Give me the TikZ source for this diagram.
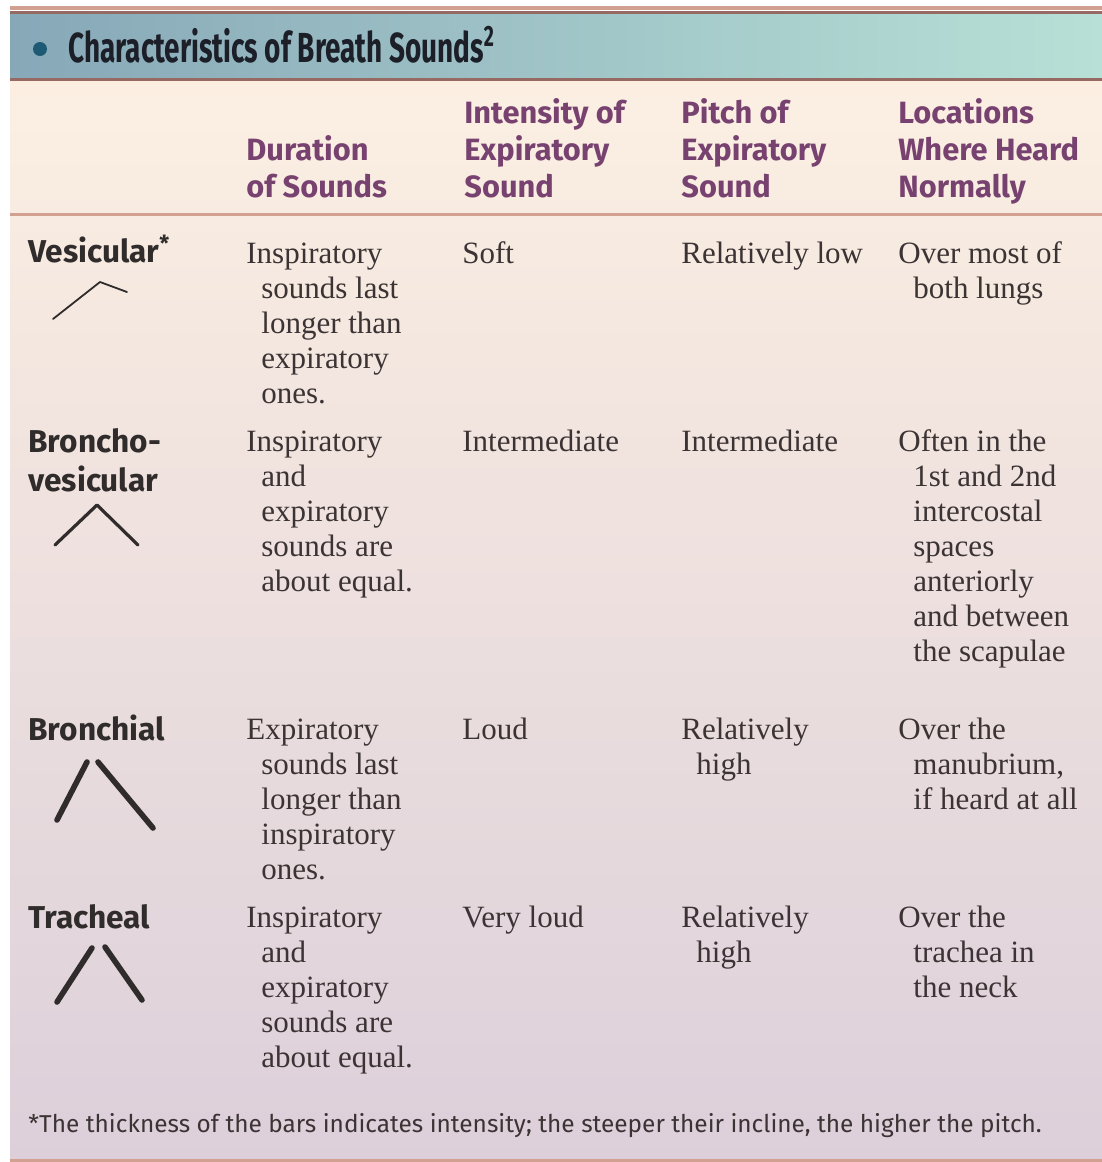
\documentclass[tikz,border=0pt]{standalone}
\usepackage{fontspec}
\setmainfont{Liberation Serif}
\newfontfamily\headfont{Fira Sans}
\newfontfamily\titlefont{Fira Sans}[FakeStretch=0.665]
\newfontfamily\notefont{Fira Sans}
\usepackage{xcolor}
\definecolor{bandleft}{RGB}{135,168,184}
\definecolor{bandright}{RGB}{184,224,214}
\definecolor{creamtop}{RGB}{252,239,226}
\definecolor{lilacbottom}{RGB}{220,207,218}
\definecolor{rulebrown}{RGB}{150,105,98}
\definecolor{rulesalmon}{RGB}{210,160,145}
\definecolor{headpurple}{RGB}{120,66,112}
\definecolor{inkgray}{RGB}{60,52,52}
\definecolor{labelgray}{RGB}{48,44,44}
\definecolor{titleink}{RGB}{28,30,40}
\definecolor{dotteal}{RGB}{30,90,115}
\newcommand\hng{\hspace*{7.5pt}}

\begin{document}
\begin{tikzpicture}[x=0.5pt,y=-0.5pt,
	cell/.style={anchor=base west,inner sep=0pt,align=left,text=inkgray,font=\fontsize{15.5}{17.5}\selectfont},
	colhead/.style={anchor=base west,inner sep=0pt,align=left,text=headpurple,font=\headfont\bfseries\fontsize{15.4}{18.5}\selectfont},
	rowhead/.style={anchor=base west,inner sep=0pt,align=left,text=labelgray,font=\headfont\bfseries\fontsize{15.8}{19.5}\selectfont},
	bars/.style={labelgray,line cap=round,line join=round}]
	\useasboundingbox (0,0) rectangle (1102,1162);
	
	%BACKGROUND
	\fill[white] (0,0) rectangle (1102,1162);
	\shade[top color=creamtop,bottom color=lilacbottom] (10,80) rectangle (1102,1162);
	\shade[left color=bandleft,right color=bandright] (10,12) rectangle (1102,79);
	\draw[rulesalmon,line width=2pt] (10,8)--(1102,8);
	\draw[rulebrown,line width=1.5pt] (10,12)--(1102,12);
	\draw[rulebrown,line width=1.5pt] (10,79)--(1102,79);
	\draw[rulesalmon,line width=1.5pt] (10,214)--(1102,214);
	\draw[rulesalmon,line width=1.5pt] (10,1160)--(1102,1160);
	
	%TITLE
	\node[circle,fill=dotteal,minimum size=7pt,inner sep=0pt] (dot) at (40,49) {};
	\node[anchor=base west,inner sep=0pt,text=titleink,font=\titlefont\bfseries\fontsize{21}{21}\selectfont] (title) at (68,62) {Characteristics of Breath Sounds\textsuperscript{2}};
	
	%COLUMN HEADS (base = last line)
	\node[colhead] (hdur) at (246,197) {Duration\\of Sounds};
	\node[colhead] (hint) at (464,197) {Intensity of\\Expiratory\\Sound};
	\node[colhead] (hpit) at (681,197) {Pitch of\\Expiratory\\Sound};
	\node[colhead] (hloc) at (898,197) {Locations\\Where Heard\\Normally};
	
	%ROW HEADS
	\node[rowhead] (ves) at (28,262) {Vesicular\textsuperscript{*}};
	\node[rowhead] (bves) at (28,491) {Broncho-\\vesicular};
	\node[rowhead] (bron) at (28,740) {Bronchial};
	\node[rowhead] (trach) at (28,928) {Tracheal};
	
	%VESICULAR
	\node[cell] (vesdur) at (246,403) {Inspiratory\\\hng sounds last\\\hng longer than\\\hng expiratory\\\hng ones.};
	\node[cell] (vesint) at (462,263) {Soft};
	\node[cell] (vespit) at (681,263) {Relatively low};
	\node[cell] (vesloc) at (898,298) {Over most of\\\hng both lungs};
	
	%BRONCHOVESICULAR
	\node[cell] (bvesdur) at (246,591) {Inspiratory\\\hng and\\\hng expiratory\\\hng sounds are\\\hng about equal.};
	\node[cell] (bvesint) at (462,451) {Intermediate};
	\node[cell] (bvespit) at (681,451) {Intermediate};
	\node[cell] (bvesloc) at (898,661) {Often in the\\\hng 1st and 2nd\\\hng intercostal\\\hng spaces\\\hng anteriorly\\\hng and between\\\hng the scapulae};
	
	%BRONCHIAL
	\node[cell] (brondur) at (246,879) {Expiratory\\\hng sounds last\\\hng longer than\\\hng inspiratory\\\hng ones.};
	\node[cell] (bronint) at (462,739) {Loud};
	\node[cell] (bronpit) at (681,774) {Relatively\\\hng high};
	\node[cell] (bronloc) at (898,809) {Over the\\\hng manubrium,\\\hng if heard at all};
	
	%TRACHEAL
	\node[cell] (trachdur) at (246,1067) {Inspiratory\\\hng and\\\hng expiratory\\\hng sounds are\\\hng about equal.};
	\node[cell] (trachint) at (462,927) {Very loud};
	\node[cell] (trachpit) at (681,962) {Relatively\\\hng high};
	\node[cell] (trachloc) at (898,997) {Over the\\\hng trachea in\\\hng the neck};
	
	%BARS
	\draw[bars,line width=0.9pt] (53,319)--(100,282)--(127,292);
	\draw[bars,line width=1.6pt] (55,545)--(97,505)--(138,545);
	\draw[bars,line width=2.8pt] (57,820)--(87,762);
	\draw[bars,line width=2.8pt] (98,762)--(153,828);
	\draw[bars,line width=2.8pt] (57,1002)--(92,948);
	\draw[bars,line width=2.8pt] (105,947)--(142,1000);
	
	%FOOTNOTE
	\node[anchor=base west,inner sep=0pt,text=inkgray,font=\notefont\fontsize{12.2}{14}\selectfont] (note) at (28,1132) {*The thickness of the bars indicates intensity; the steeper their incline, the higher the pitch.};
\end{tikzpicture}
\end{document}
